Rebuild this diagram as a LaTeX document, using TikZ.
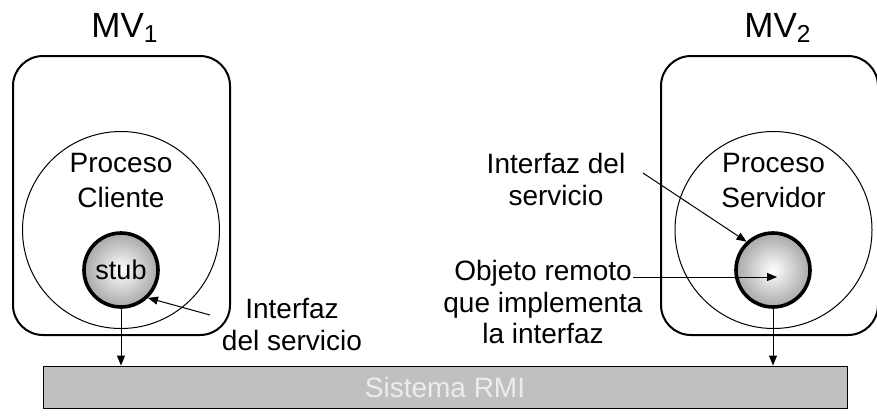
\documentclass[tikz,border=0pt]{standalone}
\usepackage{fontspec}
\setmainfont{Liberation Sans}
\usepackage{xcolor}
\usetikzlibrary{positioning,arrows.meta,shapes.geometric,calc}
\definecolor{rmigray}{RGB}{192,192,192}
\definecolor{rmitext}{RGB}{236,236,236}
\definecolor{objgray}{RGB}{168,168,168}

\begin{document}
\begin{tikzpicture}[x=0.5pt,y=-0.5pt,
  vmbox/.style={draw,line width=1pt,rounded corners=15pt,minimum width=108.5pt,minimum height=139.5pt},
  proccircle/.style={circle,draw,line width=0.5pt,minimum size=98.5pt,inner sep=0pt},
  objcircle/.style={circle,draw,line width=1.8pt,minimum size=37pt,inner sep=0pt,inner color=white,outer color=objgray},
  lbl/.style={align=center,font=\fontsize{14}{16}\selectfont},
  arr/.style={-{Triangle[length=5pt,width=4pt]},line width=0.5pt}]
\useasboundingbox (0,0) rectangle (877,419);

% maquinas virtuales
\node[font=\fontsize{17.5}{20}\selectfont] (mv1) at (125,28) {MV\textsubscript{1}};
\node[font=\fontsize{17.5}{20}\selectfont] (mv2) at (778,28) {MV\textsubscript{2}};
\node[vmbox] (vm1) at (121.5,195.5) {};
\node[vmbox] (vm2) at (769.5,195.5) {};

% procesos
\node[proccircle] (proc1) at (121,230) {};
\node[proccircle] (proc2) at (773.5,230) {};
\node[lbl,font=\fontsize{14}{17.5}\selectfont] (proc1lbl) at (121,180) {Proceso\\Cliente};
\node[lbl,font=\fontsize{14}{17.5}\selectfont] (proc2lbl) at (773.5,180) {Proceso\\Servidor};

% stub y objeto remoto
\node[objcircle,font=\fontsize{13.5}{15}\selectfont] (stub) at (121,270) {stub};
\node[objcircle] (obj) at (773,270) {};

% sistema RMI
\node[draw,line width=0.5pt,fill=rmigray,minimum width=402pt,minimum height=21pt,
  text=rmitext,font=\fontsize{14}{16}\selectfont] (rmi) at (445,387) {Sistema RMI};

\draw[arr] (stub.south) -- (stub.south |- rmi.north);
\draw[arr] (obj.south) -- (obj.south |- rmi.north);

% etiquetas
\node[lbl] (iface1) at (292,324) {Interfaz\\del servicio};
\node[lbl] (iface2) at (556,179) {Interfaz del\\servicio};
\node[lbl,font=\fontsize{14}{15.8}\selectfont] (objlbl) at (543,302) {Objeto remoto\\que implementa\\la interfaz};

\coordinate (a1) at (210,315);
\coordinate (a2) at (643,173);
\coordinate (a3) at (633,277);
\draw[arr] (a1) -- (stub.-46);
\draw[arr] (a2) -- (obj.133);
\draw[arr] (a3) -- ($(obj.center)+(4,7)$);
\end{tikzpicture}
\end{document}
